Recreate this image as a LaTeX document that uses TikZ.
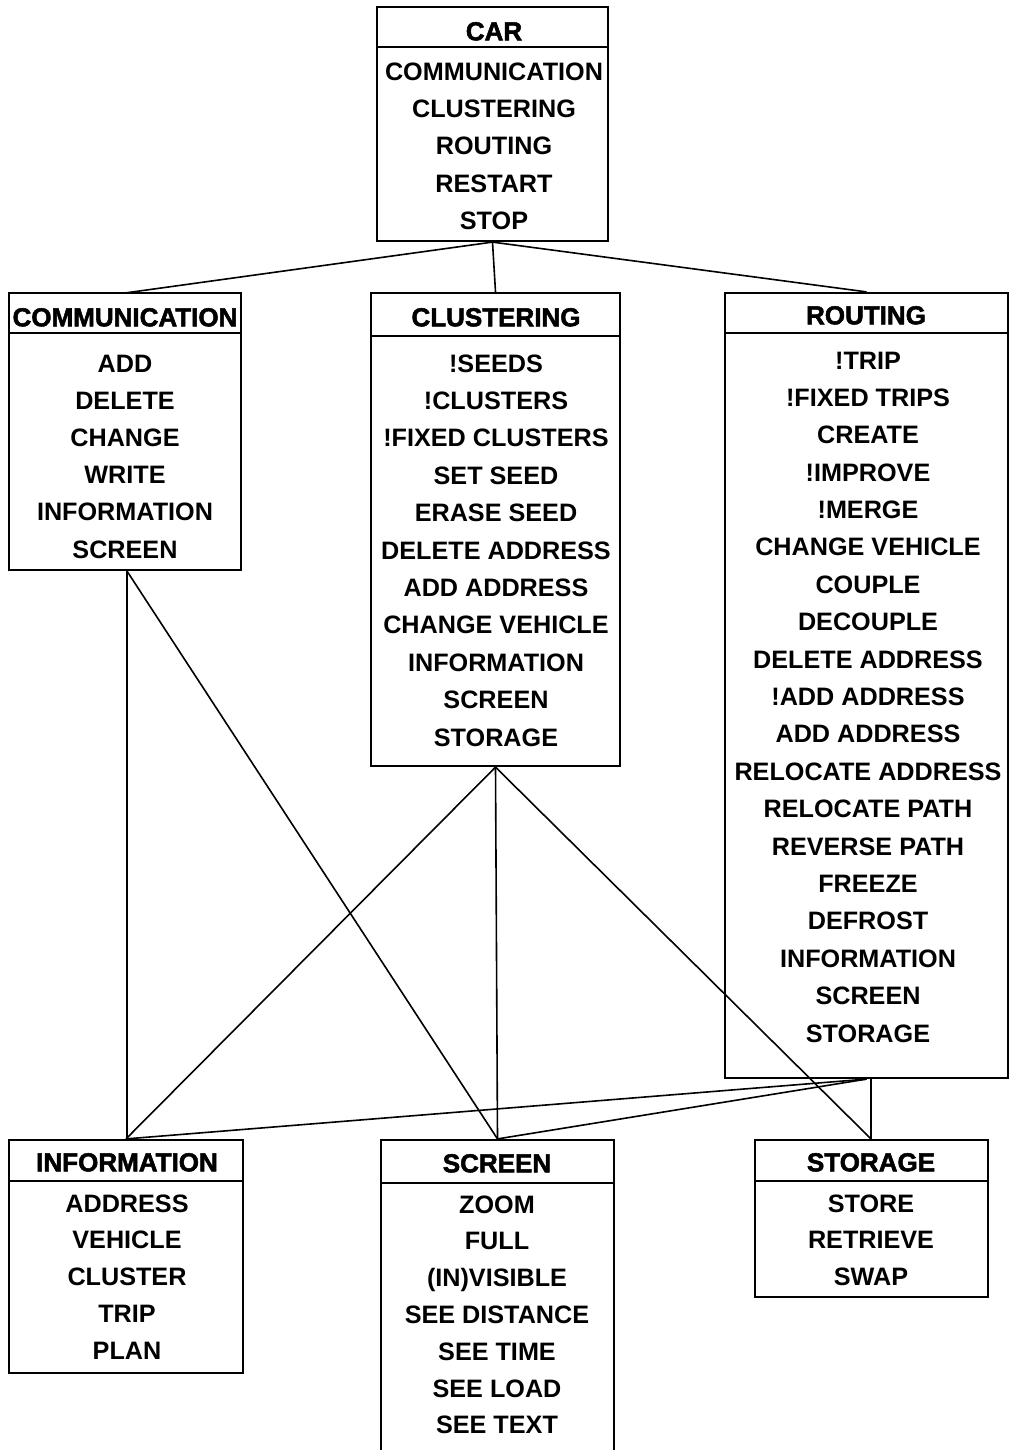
\documentclass[tikz,border=0pt]{standalone}
\usepackage{fontspec}
\usetikzlibrary{fit}
\newfontfamily\itemfont{Liberation Sans Bold}
\newfontfamily\titlefont[FakeBold=2]{Liberation Sans Bold}
\tikzset{
  boxframe/.style={draw, line width=1.1pt, inner sep=0pt},
  sepline/.style={line width=1.1pt},
  conn/.style={line width=0.8pt},
  ttl/.style={font=\titlefont\fontsize{13}{15}\selectfont, inner sep=0pt, text height=9.3pt, text depth=0pt},
  itm/.style={font=\itemfont\fontsize{12.6}{14}\selectfont, inner sep=0pt, text height=9pt, text depth=0pt}
}
\newcommand{\umlbox}[6]{%
  \node[boxframe, fit={(#2,#3)(#4,#5)}] (#1) {};
  \draw[sepline] (#2,#6) -- (#4,#6);
}
\newcommand{\itemlist}[4]{%
  \foreach \t [count=\i from 0] in {#4} \node[itm] at (#1,{#2+\i*#3}) {\t};
}
\begin{document}
\begin{tikzpicture}[x=0.5pt,y=-0.5pt]
\useasboundingbox[fill=white] (0,0) rectangle (1017,1450);
% CAR
\umlbox{car}{377}{7}{608}{241}{47}
\node[ttl] (cart) at (494,31) {CAR};
\itemlist{494}{72}{37}{COMMUNICATION,CLUSTERING,ROUTING,RESTART,STOP}
% COMMUNICATION
\umlbox{comm}{9}{293}{241}{570}{333}
\node[ttl] (commt) at (125,317) {COMMUNICATION};
\itemlist{125}{363}{37.2}{ADD,DELETE,CHANGE,WRITE,INFORMATION,SCREEN}
% CLUSTERING
\umlbox{clus}{371}{293}{620}{766}{336}
\node[ttl] (clust) at (496,317) {CLUSTERING};
\itemlist{496}{363}{37.4}{!SEEDS,!CLUSTERS,!FIXED CLUSTERS,SET SEED,ERASE SEED,DELETE ADDRESS,ADD ADDRESS,CHANGE VEHICLE,INFORMATION,SCREEN,STORAGE}
% ROUTING
\umlbox{rout}{725}{293}{1008}{1078}{333}
\node[ttl] (routt) at (866,315) {ROUTING};
\itemlist{868}{360}{37.39}{!TRIP,!FIXED TRIPS,CREATE,!IMPROVE,!MERGE,CHANGE VEHICLE,COUPLE,DECOUPLE,DELETE ADDRESS,!ADD ADDRESS,ADD ADDRESS,RELOCATE ADDRESS,RELOCATE PATH,REVERSE PATH,FREEZE,DEFROST,INFORMATION,SCREEN,STORAGE}
% INFORMATION
\umlbox{info}{9}{1140}{243}{1373}{1181}
\node[ttl] (infot) at (127,1162) {INFORMATION};
\itemlist{127}{1203}{36.8}{ADDRESS,VEHICLE,CLUSTER,TRIP,PLAN}
% SCREEN
\umlbox{scr}{381}{1140}{614}{1470}{1183}
\node[ttl] (scrt) at (497,1163) {SCREEN};
\itemlist{497}{1204}{36.8}{ZOOM,FULL,(IN)VISIBLE,SEE DISTANCE,SEE TIME,SEE LOAD,SEE TEXT}
% STORAGE
\umlbox{stor}{755}{1140}{988}{1297}{1181}
\node[ttl] (stort) at (871,1162) {STORAGE};
\itemlist{871}{1203}{36.5}{STORE,RETRIEVE,SWAP}
% connectors
\draw[conn] (car.south) -- (123,293 -| comm.north);
\draw[conn] (car.south) -- (clus.north);
\draw[conn] (car.south) -- (rout.north);
\draw[conn] (127,570 |- comm.south) -- (127,1140 |- info.north);
\draw[conn] (127,570 |- comm.south) -- (scr.north);
\draw[conn] (clus.south) -- (info.north);
\draw[conn] (clus.south) -- (scr.north);
\draw[conn] (clus.south) -- (871,1140 |- stor.north);
\draw[conn] (rout.south) -- (info.north);
\draw[conn] (rout.south) -- (scr.north);
\draw[conn] (871,1078 |- rout.south) -- (871,1140 |- stor.north);
\end{tikzpicture}
\end{document}
